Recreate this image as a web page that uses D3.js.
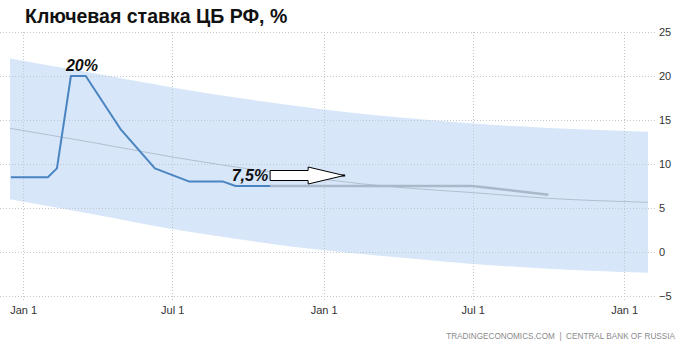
<!DOCTYPE html>
<html>
<head>
<meta charset="utf-8">
<script src="https://cdn.jsdelivr.net/npm/d3@7"></script>
<style>
  html, body { margin: 0; padding: 0; background: #fff; }
  svg { display: block; font-family: "Liberation Sans", Arial, sans-serif; }
</style>
</head>
<body>
<svg id="chart" width="682" height="350"></svg>
<script>
// Key rate of the Bank of Russia, %
const rateDates = ["2021-12-17", "2022-01-31", "2022-02-11", "2022-02-28", "2022-03-18",
                   "2022-04-29", "2022-06-10", "2022-07-22", "2022-09-01", "2022-09-16", "2022-10-28"];
const rateValues = [8.5, 8.5, 9.5, 20, 20, 14, 9.5, 8, 8, 7.5, 7.5];

// Forecast continuation
const forecastDates = ["2022-10-28", "2023-07-01", "2023-10-01"];
const forecastValues = [7.5, 7.5, 6.5];

// Trend line and forecast range band
const bandDates = ["2021-12-16", "2022-04-01", "2022-07-01", "2022-10-01", "2023-01-01",
                   "2023-04-01", "2023-07-01", "2023-10-01", "2024-01-30"];
const bandUpper = [22.0, 20.25, 18.7, 17.35, 16.2, 15.3, 14.6, 14.1, 13.67];
const bandLower = [6.0, 4.2, 2.6, 1.3, 0.2, -0.6, -1.35, -1.9, -2.35];
const trendValues = [14.05, 12.35, 10.8, 9.45, 8.25, 7.35, 6.75, 6.1, 5.65];

const yTicks = [-5, 0, 5, 10, 15, 20, 25];
const titleText = "Ключевая ставка ЦБ РФ, %";
const sourceText = "TRADINGECONOMICS.COM  |  CENTRAL BANK OF RUSSIA";
const peakLabel = "20%";
const lastLabel = "7,5%";

const parse = d3.utcParse("%Y-%m-%d");
const rate = rateDates.map((d, i) => ({ date: parse(d), value: rateValues[i] }));
const forecast = forecastDates.map((d, i) => ({ date: parse(d), value: forecastValues[i] }));
const band = bandDates.map((d, i) => ({
  date: parse(d), hi: bandUpper[i], lo: bandLower[i], trend: trendValues[i]
}));

const svg = d3.select("#chart");

const x = d3.scaleUtc()
  .domain([parse("2021-12-16"), parse("2024-01-30")])
  .range([10, 648]);
const y = d3.scaleLinear().domain([-5, 25]).range([296, 32]);

// Title
svg.append("text")
  .attr("x", 25).attr("y", 23)
  .attr("font-size", 19.5).attr("font-weight", "bold")
  .attr("fill", "#111")
  .text(titleText);

// Band
svg.append("path")
  .datum(band)
  .attr("fill", "#d7e6f9")
  .attr("d", d3.area().x(d => x(d.date)).y0(d => y(d.lo)).y1(d => y(d.hi)).curve(d3.curveMonotoneX));

// Grid
const grid = svg.append("g").attr("stroke", "#c3c8cf").attr("stroke-width", 1)
  .attr("stroke-dasharray", "1,2").attr("shape-rendering", "crispEdges");
grid.selectAll("line.h").data(yTicks).join("line")
  .attr("x1", 0).attr("x2", 656)
  .attr("y1", d => Math.round(y(d)) + 0.5).attr("y2", d => Math.round(y(d)) + 0.5);
const xTicks = x.ticks(d3.utcMonth.every(6));
grid.selectAll("line.v").data(xTicks).join("line")
  .attr("y1", 32).attr("y2", 301)
  .attr("x1", d => Math.round(x(d)) + 0.5).attr("x2", d => Math.round(x(d)) + 0.5);

// Trend line
svg.append("path")
  .datum(band)
  .attr("fill", "none").attr("stroke", "#b3bfcf").attr("stroke-width", 1)
  .attr("d", d3.line().x(d => x(d.date)).y(d => y(d.trend)).curve(d3.curveMonotoneX));

// Forecast line
svg.append("path")
  .datum(forecast)
  .attr("fill", "none").attr("stroke", "#aab8cb").attr("stroke-width", 2.5)
  .attr("d", d3.line().x(d => x(d.date)).y(d => y(d.value)));

// Key rate line
svg.append("path")
  .datum(rate)
  .attr("fill", "none").attr("stroke", "#4a84c1").attr("stroke-width", 2)
  .attr("stroke-linejoin", "round")
  .attr("d", d3.line().x(d => x(d.date)).y(d => y(d.value)));

// Y axis labels
const yAxis = svg.append("g")
  .attr("transform", "translate(657,0)")
  .call(d3.axisRight(y).tickValues(yTicks).tickSize(0).tickPadding(2).tickFormat(d3.format("d")));
yAxis.select(".domain").remove();
yAxis.selectAll("text").attr("font-size", 11).attr("fill", "#333")
  .attr("font-family", "'Liberation Sans', Arial, sans-serif");

// X axis labels
const xAxis = svg.append("g")
  .attr("transform", "translate(0,303)")
  .call(d3.axisBottom(x).tickValues(xTicks).tickSize(0).tickPadding(3).tickFormat(d3.utcFormat("%b %-d")));
xAxis.select(".domain").remove();
xAxis.selectAll("text").attr("font-size", 11).attr("fill", "#333")
  .attr("font-family", "'Liberation Sans', Arial, sans-serif");

// Annotations
const peak = rate[3];
svg.append("text")
  .attr("x", x(peak.date) - 5).attr("y", y(peak.value) - 5)
  .attr("font-size", 16).attr("font-weight", "bold").attr("font-style", "italic")
  .attr("fill", "#111")
  .text(peakLabel);

const last = rate[rate.length - 1];
const lx = x(last.date), ly = y(last.value);
svg.append("text")
  .attr("x", lx - 2).attr("y", ly - 5).attr("text-anchor", "end")
  .attr("font-size", 16).attr("font-weight", "bold").attr("font-style", "italic")
  .attr("fill", "#111")
  .text(lastLabel);

// Block arrow pointing ahead from the last observation
const ay = ly - 10.5;
const arrow = [
  [lx, ay - 5], [lx + 38, ay - 5], [lx + 38, ay - 8.5], [lx + 74, ay],
  [lx + 38, ay + 8.5], [lx + 38, ay + 5], [lx, ay + 5]
];
svg.append("path")
  .attr("d", d3.line()(arrow) + "Z")
  .attr("fill", "#fff").attr("stroke", "#000").attr("stroke-width", 1);
svg.append("rect")
  .attr("x", lx + 72).attr("y", ay - 1).attr("width", 3).attr("height", 2).attr("fill", "#000");

// Source
svg.append("text")
  .attr("x", 675).attr("y", 339).attr("text-anchor", "end")
  .attr("font-size", 8.2).attr("fill", "#8a8a8a")
  .attr("xml:space", "preserve")
  .text(sourceText);
</script>
</body>
</html>
